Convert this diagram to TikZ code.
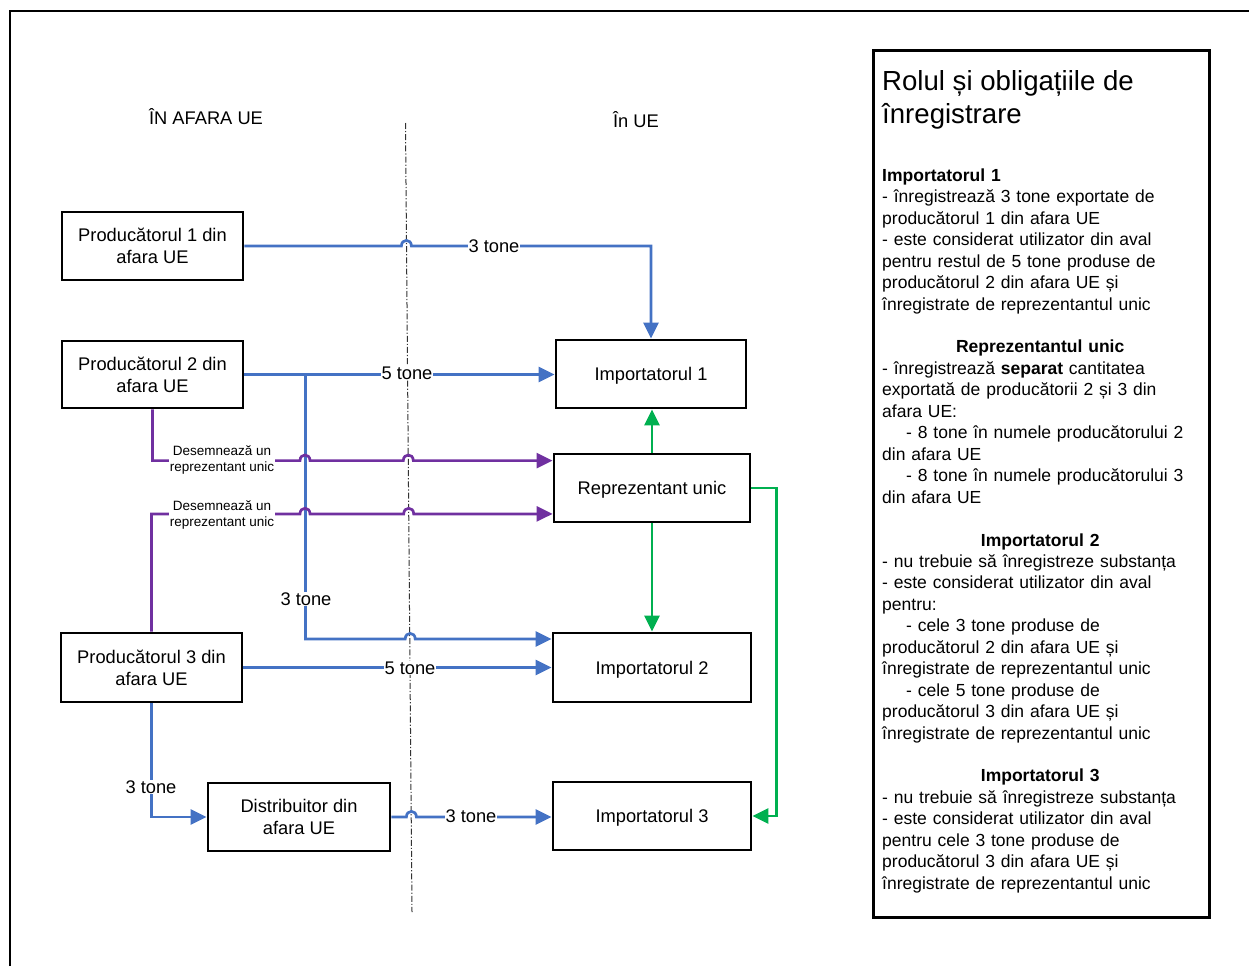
\documentclass[tikz,border=0pt]{standalone}
\usepackage{fontspec}
\setmainfont{Liberation Sans}
\usetikzlibrary{arrows.meta}
\setlength{\parindent}{0pt}

\definecolor{flowblue}{HTML}{4472C4}
\definecolor{flowpurple}{HTML}{7030A0}
\definecolor{flowgreen}{HTML}{00B050}

\newcommand\boxfont{\fontsize{18.3}{22}\selectfont}
\newcommand\notefont{\fontsize{13.5}{16}\selectfont}
\newcommand\panelfont{\fontsize{17.5}{21.45}\selectfont}
\newcommand\titlefont{\fontsize{27.6}{33}\selectfont}

\begin{document}
\begin{tikzpicture}[x=1pt,y=-1pt,
  actor/.style={draw=black, line width=2.8pt, fill=white, align=center,
    inner sep=2pt, font=\boxfont},
  oneline/.style={actor, text depth=0pt},
  flow/.style={line width=2.7pt, line join=miter,
    -{Triangle[length=16pt,width=15pt]}},
  blueflow/.style={flow, draw=flowblue},
  purpleflow/.style={flow, draw=flowpurple},
  greenflow/.style={flow, draw=flowgreen},
  tag/.style={fill=white, inner sep=1pt, font=\boxfont},
  note/.style={fill=white, inner sep=1pt, align=center, font=\notefont},
  hop/.style={insert path={.. controls +(0,-7.5) and +(0,-7.5) .. ++(10,0)}},
  border/.style={draw=black, line width=2.8pt}
]
\useasboundingbox (0,0) rectangle (1249,966);

% outer frame (only its top and left edges fall on the page)
\draw[line width=2.6pt] (10,966) -- (10,11) -- (1249,11);

% border between outside and inside the EU
\coordinate (dtop) at (405.5,123);
\coordinate (dbot) at (412,912);
\draw[line width=1pt, black!80, dash pattern=on 6pt off 2pt on 1.2pt off 2pt] (dtop) -- (dbot);

\node[font=\boxfont] (outside) at (206,117) {ÎN AFARA UE};
\node[font=\boxfont] (inside) at (636,120) {În UE};

% actors
\node[actor, minimum width=181pt, minimum height=68pt] (p1) at (152.5,246) {Producătorul 1 din\\afara UE};
\node[actor, minimum width=181pt, minimum height=67pt] (p2) at (152.5,374.5) {Producătorul 2 din\\afara UE};
\node[actor, minimum width=181pt, minimum height=69pt] (p3) at (151.5,667.5) {Producătorul 3 din\\afara UE};
\node[actor, minimum width=182pt, minimum height=68pt] (dist) at (299,817) {Distribuitor din\\afara UE};
\node[oneline, minimum width=190pt, minimum height=68pt] (i1) at (651,374) {Importatorul 1};
\node[oneline, minimum width=196pt, minimum height=68pt] (ru) at (652,488) {Reprezentant unic};
\node[oneline, minimum width=198pt, minimum height=69pt] (i2) at (652,667.5) {Importatorul 2};
\node[oneline, minimum width=198pt, minimum height=68pt] (i3) at (652,816) {Importatorul 3};

% entry points on the left side of the representative
\coordinate (ruin1) at ([yshift=-8pt]ru.north west);
\coordinate (ruin2) at ([yshift=9.5pt]ru.south west);

% blue flows of substance
\draw[blueflow] (p1.east) -- ++(157,0) [hop] -| (i1.north);
\draw[blueflow] (p2.east) -- (p2.east -| i1.west);
\draw[blueflow] (p2.east) -- ++(61,0) coordinate (j2) -- ++(0,264.5) coordinate (j3) -- ++(99.8,0) [hop] -- (j3 -| i2.west);
\draw[blueflow] (p3.east) -- (p3.east -| i2.west);
\draw[blueflow] (p3.south) |- (dist.west);
\draw[blueflow] (dist.east) -- ++(15,0) [hop] -- (dist.east -| i3.west);

% purple designations of the only representative
\draw[purpleflow] (p2.south) -- (p2.south |- ruin1) -- ++(147.5,0) [hop] -- ++(93.3,0) [hop] -- (ruin1);
\draw[purpleflow] (p3.north) -- (p3.north |- ruin2) -- ++(148.5,0) [hop] -- ++(93.7,0) [hop] -- (ruin2);

% green links from the only representative
\draw[greenflow] (ru.north) -- (ru.north |- i1.south);
\draw[greenflow] (ru.south) -- (i2.north);
\draw[greenflow] (ru.east) -- ++(25,0) |- (i3.east);

% quantities
\node[tag] (q1) at (494,246) {3 tone};
\node[tag] (q2) at (407,373) {5 tone};
\node[tag] (q3) at (306,599) {3 tone};
\node[tag] (q4) at (410,668) {5 tone};
\node[tag] (q5) at (151,787) {3 tone};
\node[tag] (q6) at (471,816) {3 tone};
\node[note] (n1) at (222,460) {Desemnează un\\reprezentant unic};
\node[note] (n2) at (222,515) {Desemnează un\\reprezentant unic};

% side panel with the roles
\node[border, anchor=north west, minimum width=336pt, minimum height=867pt, inner sep=0pt] (panel) at (872,49) {};
\node[anchor=north west, align=left, inner sep=0pt, font=\titlefont] (title) at (882,70) {Rolul și obligațiile de\\înregistrare};
\node[anchor=north west, text width=316pt, align=left, inner sep=0pt, font=\panelfont] (roles) at (882,168.5) {%
\textbf{Importatorul 1}\\
- înregistrează 3 tone exportate de\\
producătorul 1 din afara UE\\
- este considerat utilizator din aval\\
pentru restul de 5 tone produse de\\
producătorul 2 din afara UE și\\
înregistrate de reprezentantul unic\par
\mbox{}\par
{\centering\textbf{Reprezentantul unic}\par}
- înregistrează \textbf{separat} cantitatea\\
exportată de producătorii 2 și 3 din\\
afara UE:\\
\hspace*{24pt}- 8 tone în numele producătorului 2\\
din afara UE\\
\hspace*{24pt}- 8 tone în numele producătorului 3\\
din afara UE\par
\mbox{}\par
{\centering\textbf{Importatorul 2}\par}
- nu trebuie să înregistreze substanța\\
- este considerat utilizator din aval\\
pentru:\\
\hspace*{24pt}- cele 3 tone produse de\\
producătorul 2 din afara UE și\\
înregistrate de reprezentantul unic\\
\hspace*{24pt}- cele 5 tone produse de\\
producătorul 3 din afara UE și\\
înregistrate de reprezentantul unic\par
\mbox{}\par
{\centering\textbf{Importatorul 3}\par}
- nu trebuie să înregistreze substanța\\
- este considerat utilizator din aval\\
pentru cele 3 tone produse de\\
producătorul 3 din afara UE și\\
înregistrate de reprezentantul unic};
\end{tikzpicture}
\end{document}
